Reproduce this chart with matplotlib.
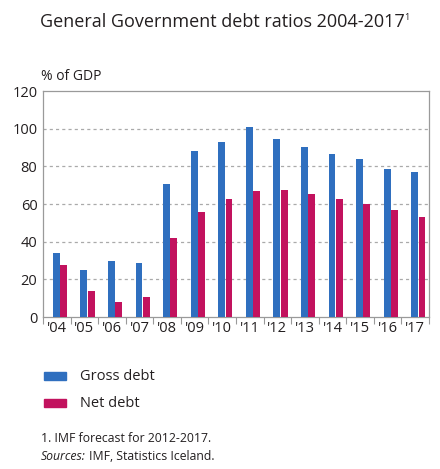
import matplotlib
matplotlib.use("Agg")
import matplotlib.pyplot as plt
import numpy as np
from matplotlib.patches import Rectangle

years = ["'04", "'05", "'06", "'07", "'08", "'09", "'10", "'11", "'12", "'13", "'14", "'15", "'16", "'17"]
gross_debt = [34.0, 25.2, 29.8, 28.5, 70.4, 87.9, 92.9, 101.1, 94.5, 90.2, 86.7, 83.7, 78.4, 76.8]
net_debt = [27.7, 13.7, 8.0, 10.6, 42.0, 56.0, 62.9, 66.8, 67.2, 65.1, 62.8, 59.8, 56.6, 53.2]
yticks = [0, 20, 40, 60, 80, 100, 120]

title = "General Government debt ratios 2004-2017"
unit = "% of GDP"
series_names = ["Gross debt", "Net debt"]
footnote = "1. IMF forecast for 2012-2017."
sources = "IMF, Statistics Iceland."

blue = "#2f6fbf"
pink = "#c2125e"
text_col = "#231f20"
frame_col = "#9a9a9a"

plt.rcParams['font.family'] = ['Open Sans', 'DejaVu Sans']

W, H = 440, 469
fig = plt.figure(figsize=(W / 100, H / 100), dpi=100)
ax = fig.add_axes([43 / W, 1 - 317 / H, (429 - 43) / W, (317 - 91) / H])

x = np.arange(len(years))
bw = 0.25
ax.bar(x - 0.02, gross_debt, width=bw, color=blue, zorder=3)
ax.bar(x + 0.245, net_debt, width=bw, color=pink, zorder=3)

ax.set_xlim(-0.5, len(years) - 0.5)
ax.set_ylim(0, 120)
ax.set_yticks(yticks)
ax.set_yticklabels([str(v) for v in yticks], fontsize=10.5, color=text_col)
ax.tick_params(axis='y', length=0, pad=4)

ax.set_xticks(x)
ax.set_xticklabels(years, fontsize=10.5, color=text_col)
ax.tick_params(axis='x', which='major', length=0, pad=3)
ax.set_xticks(np.arange(-0.5, len(years), 1.0), minor=True)
ax.tick_params(axis='x', which='minor', length=5, width=0.8, color=frame_col, direction='out')

for v in yticks[1:-1]:
    ax.axhline(v, color="#aaaaaa", lw=0.9, ls=(0, (2.5, 2.5)), zorder=1)

for s in ax.spines.values():
    s.set_color(frame_col)
    s.set_linewidth(0.9)

fig.canvas.draw()
renderer = fig.canvas.get_renderer()
tt = fig.text(40 / W, 1 - 22 / H, title, fontsize=13.0, color=text_col, va='center', ha='left')
bb = tt.get_window_extent(renderer=renderer)
fig.text((bb.x1 - 1) / W, 1 - 18 / H, "1", fontsize=6.5, color=text_col, va='center', ha='left')
fig.text(41 / W, 1 - 76 / H, unit, fontsize=10, color=text_col, va='center', ha='left')

for i, (name, col) in enumerate(zip(series_names, [blue, pink])):
    yc = 376 + i * 27
    fig.patches.append(Rectangle((44 / W, 1 - (yc + 4) / H), 22 / W, 8 / H,
                                 transform=fig.transFigure, color=col, figure=fig))
    fig.text(80 / W, 1 - yc / H, name, fontsize=10.5, color=text_col, va='center', ha='left')

fig.text(41 / W, 1 - 438 / H, footnote, fontsize=8.8, color=text_col, va='center', ha='left')
st = fig.text(41 / W, 1 - 456 / H, "Sources:", fontsize=8.8, color=text_col, va='center', ha='left', style='italic')
sb = st.get_window_extent(renderer=renderer)
fig.text((sb.x1 + 3) / W, 1 - 456 / H, sources, fontsize=8.8, color=text_col, va='center', ha='left')

fig.savefig("out.png", dpi=100)
